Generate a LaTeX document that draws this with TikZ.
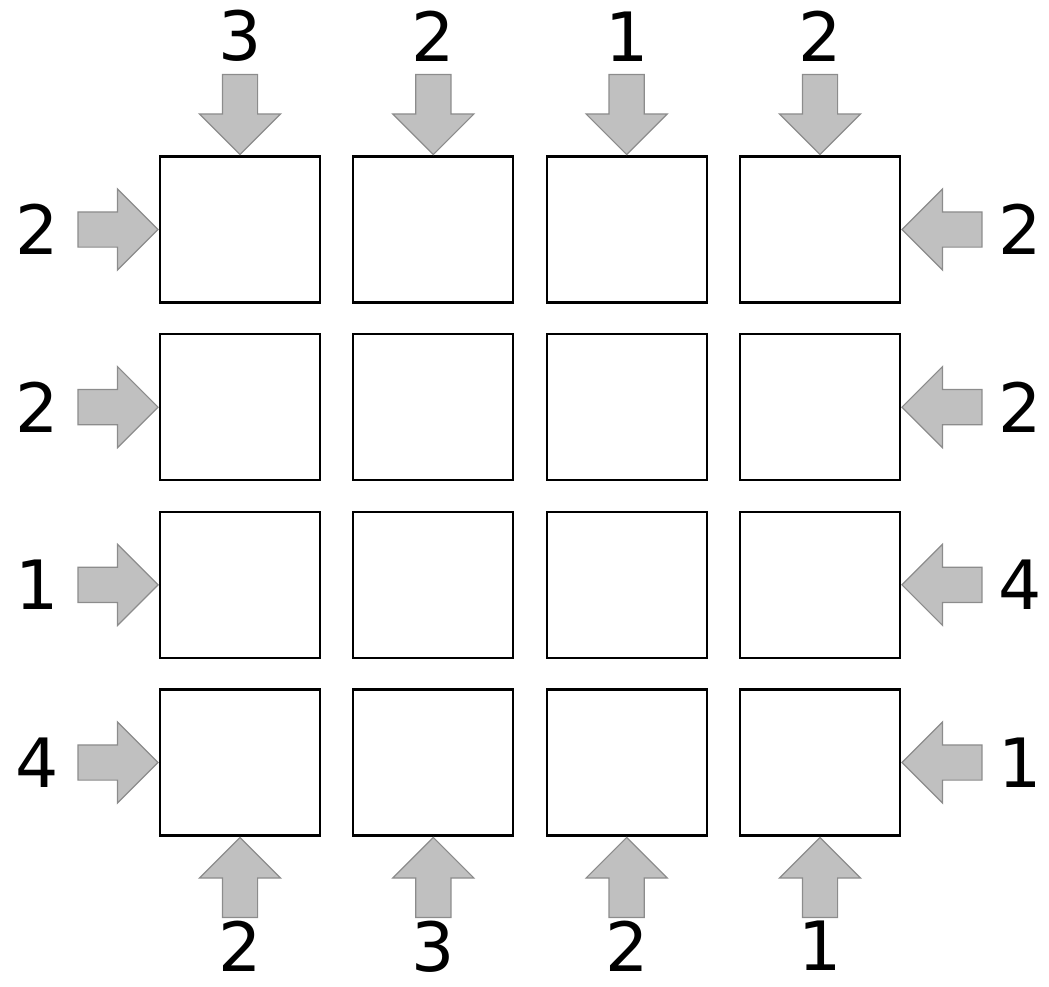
\documentclass[tikz,border=0pt]{standalone}
\usepackage{fontspec}
\setmainfont{DejaVu Sans}
\usetikzlibrary{shapes.arrows}
\definecolor{arrowfill}{RGB}{192,192,192}
\definecolor{arrowedge}{RGB}{140,140,140}
\begin{document}
\begin{tikzpicture}[x=1pt,y=-1pt,
    cell/.style={draw,line width=2.2pt,minimum width=160pt,minimum height=146pt,inner sep=0pt},
    blockarrow/.style={single arrow,draw=arrowedge,fill=arrowfill,line width=1.2pt,
      minimum height=80pt,single arrow head extend=23pt,
      single arrow head indent=0pt,inner sep=17pt,anchor=tip},
    clue/.style={font=\fontsize{68}{82}\selectfont,inner sep=0pt}]
  \useasboundingbox (0,0) rectangle (1049,986);
  % the 4x4 grid
  \foreach \r in {1,...,4}
    \foreach \c in {1,...,4}
      \node[cell] (c\r\c) at ({240+193.33*(\c-1)},{229.5+177.67*(\r-1)}) {};
  % clues above and below
  \foreach \c/\t/\b in {1/3/2,2/2/3,3/1/2,4/2/1} {
    \node[blockarrow,shape border rotate=270] (top\c) at (c1\c.north) {};
    \node[clue,anchor=south] (tn\c) at ([yshift=12pt]top\c.tail) {\t};
    \node[blockarrow,shape border rotate=90] (bot\c) at (c4\c.south) {};
    \node[clue,anchor=north] (bn\c) at ([yshift=-3pt]bot\c.tail) {\b};
  }
  % clues left and right
  \foreach \r/\l/\rr in {1/2/2,2/2/2,3/1/4,4/4/1} {
    \node[blockarrow] (lft\r) at (c\r1.west) {};
    \node[clue,anchor=east] (ln\r) at ([xshift=-18pt]lft\r.tail) {\l};
    \node[blockarrow,shape border rotate=180] (rgt\r) at (c\r4.east) {};
    \node[clue,anchor=west] (rn\r) at ([xshift=16pt]rgt\r.tail) {\rr};
  }
\end{tikzpicture}
\end{document}
